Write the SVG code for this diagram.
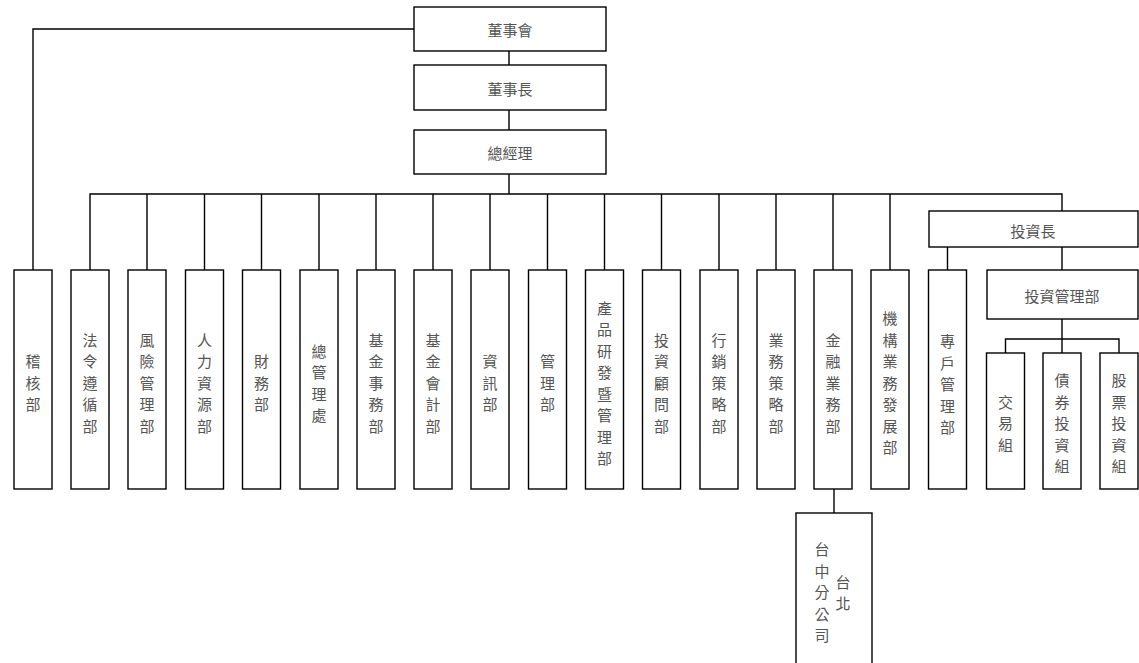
<svg xmlns="http://www.w3.org/2000/svg" width="1139" height="663" viewBox="0 0 1139 663">
<style>
.box{fill:#fff;stroke:#000;stroke-width:1.4}
.ln{fill:none;stroke:#000;stroke-width:1.4}
.t{font-family:"Noto Sans CJK TC","Noto Sans CJK SC",sans-serif;font-size:15px;fill:#555;text-anchor:middle;dominant-baseline:central}
</style>
<rect width="1139" height="663" fill="#fff"/>
<g id="connectors" class="ln">
<path d="M414 29H33V270"/>
<path d="M509 51V65M509 110V130M509 174V194"/>
<path d="M90 270V194H1062V211"/>
<path d="M147 194V270M204.5 194V270M261.5 194V270M319 194V270M376 194V270M433 194V270M490 194V270M547.5 194V270M604.5 194V270M661.5 194V270M719 194V270M776 194V270M833 194V270M890 194V270"/>
<path d="M947.5 247V270M1062 247V270M1062 319V353M1005.5 353V339H1119V353"/>
<path d="M834 489V513"/>
</g>
<g id="n-board"><rect class="box" x="414" y="7" width="192" height="44"/><text class="t" x="510" y="29">董事會</text></g>
<g id="n-chair"><rect class="box" x="414" y="65" width="192" height="45"/><text class="t" x="510" y="88">董事長</text></g>
<g id="n-gm"><rect class="box" x="414" y="130" width="192" height="44"/><text class="t" x="510" y="152">總經理</text></g>
<g id="n-cio"><rect class="box" x="929" y="211" width="209" height="36"/><text class="t" x="1033" y="230">投資長</text></g>
<g id="n-invmgmt"><rect class="box" x="987" y="270" width="151" height="49"/><text class="t" x="1062" y="295">投資管理部</text></g>

<g id="n-audit"><rect class="box" x="14" y="270" width="38" height="219"/><text class="t"><tspan x="33" y="360">稽</tspan><tspan x="33" y="381.5">核</tspan><tspan x="33" y="403">部</tspan></text></g>
<g id="n-legal"><rect class="box" x="71" y="270" width="38" height="219"/><text class="t"><tspan x="90" y="338.5">法</tspan><tspan x="90" y="360">令</tspan><tspan x="90" y="381.5">遵</tspan><tspan x="90" y="403">循</tspan><tspan x="90" y="424.5">部</tspan></text></g>
<g id="n-risk"><rect class="box" x="128" y="270" width="38" height="219"/><text class="t"><tspan x="147" y="338.5">風</tspan><tspan x="147" y="360">險</tspan><tspan x="147" y="381.5">管</tspan><tspan x="147" y="403">理</tspan><tspan x="147" y="424.5">部</tspan></text></g>
<g id="n-hr"><rect class="box" x="185.5" y="270" width="38" height="219"/><text class="t"><tspan x="204.5" y="338.5">人</tspan><tspan x="204.5" y="360">力</tspan><tspan x="204.5" y="381.5">資</tspan><tspan x="204.5" y="403">源</tspan><tspan x="204.5" y="424.5">部</tspan></text></g>
<g id="n-fin"><rect class="box" x="242.5" y="270" width="38" height="219"/><text class="t"><tspan x="261.5" y="360">財</tspan><tspan x="261.5" y="381.5">務</tspan><tspan x="261.5" y="403">部</tspan></text></g>
<g id="n-admin"><rect class="box" x="300" y="270" width="38" height="219"/><text class="t"><tspan x="319" y="349.5">總</tspan><tspan x="319" y="371">管</tspan><tspan x="319" y="392.5">理</tspan><tspan x="319" y="414">處</tspan></text></g>
<g id="n-fundops"><rect class="box" x="357" y="270" width="38" height="219"/><text class="t"><tspan x="376" y="338.5">基</tspan><tspan x="376" y="360">金</tspan><tspan x="376" y="381.5">事</tspan><tspan x="376" y="403">務</tspan><tspan x="376" y="424.5">部</tspan></text></g>
<g id="n-fundacct"><rect class="box" x="414" y="270" width="38" height="219"/><text class="t"><tspan x="433" y="338.5">基</tspan><tspan x="433" y="360">金</tspan><tspan x="433" y="381.5">會</tspan><tspan x="433" y="403">計</tspan><tspan x="433" y="424.5">部</tspan></text></g>
<g id="n-it"><rect class="box" x="471" y="270" width="38" height="219"/><text class="t"><tspan x="490" y="360">資</tspan><tspan x="490" y="381.5">訊</tspan><tspan x="490" y="403">部</tspan></text></g>
<g id="n-mgmt"><rect class="box" x="528.5" y="270" width="38" height="219"/><text class="t"><tspan x="547.5" y="360">管</tspan><tspan x="547.5" y="381.5">理</tspan><tspan x="547.5" y="403">部</tspan></text></g>
<g id="n-product"><rect class="box" x="585.5" y="270" width="38" height="219"/><text class="t"><tspan x="604.5" y="306.5">產</tspan><tspan x="604.5" y="328">品</tspan><tspan x="604.5" y="349.5">研</tspan><tspan x="604.5" y="371">發</tspan><tspan x="604.5" y="392.5">暨</tspan><tspan x="604.5" y="414">管</tspan><tspan x="604.5" y="435.5">理</tspan><tspan x="604.5" y="457">部</tspan></text></g>
<g id="n-advisory"><rect class="box" x="642.5" y="270" width="38" height="219"/><text class="t"><tspan x="661.5" y="338.5">投</tspan><tspan x="661.5" y="360">資</tspan><tspan x="661.5" y="381.5">顧</tspan><tspan x="661.5" y="403">問</tspan><tspan x="661.5" y="424.5">部</tspan></text></g>
<g id="n-marketing"><rect class="box" x="700" y="270" width="38" height="219"/><text class="t"><tspan x="719" y="338.5">行</tspan><tspan x="719" y="360">銷</tspan><tspan x="719" y="381.5">策</tspan><tspan x="719" y="403">略</tspan><tspan x="719" y="424.5">部</tspan></text></g>
<g id="n-bizstrat"><rect class="box" x="757" y="270" width="38" height="219"/><text class="t"><tspan x="776" y="338.5">業</tspan><tspan x="776" y="360">務</tspan><tspan x="776" y="381.5">策</tspan><tspan x="776" y="403">略</tspan><tspan x="776" y="424.5">部</tspan></text></g>
<g id="n-finbiz"><rect class="box" x="814" y="270" width="38" height="219"/><text class="t"><tspan x="833" y="338.5">金</tspan><tspan x="833" y="360">融</tspan><tspan x="833" y="381.5">業</tspan><tspan x="833" y="403">務</tspan><tspan x="833" y="424.5">部</tspan></text></g>
<g id="n-inst"><rect class="box" x="871" y="270" width="38" height="219"/><text class="t"><tspan x="890" y="317">機</tspan><tspan x="890" y="338.5">構</tspan><tspan x="890" y="360">業</tspan><tspan x="890" y="381.5">務</tspan><tspan x="890" y="403">發</tspan><tspan x="890" y="424.5">展</tspan><tspan x="890" y="446">部</tspan></text></g>
<g id="n-discretionary"><rect class="box" x="928.5" y="270" width="38" height="219"/><text class="t"><tspan x="947.5" y="340">專</tspan><tspan x="947.5" y="361.5">戶</tspan><tspan x="947.5" y="383">管</tspan><tspan x="947.5" y="404.5">理</tspan><tspan x="947.5" y="426">部</tspan></text></g>

<g id="n-trade"><rect class="box" x="986.5" y="353" width="38" height="136"/><text class="t"><tspan x="1005.5" y="400.5">交</tspan><tspan x="1005.5" y="422">易</tspan><tspan x="1005.5" y="443.5">組</tspan></text></g>
<g id="n-bond"><rect class="box" x="1043" y="353" width="38" height="136"/><text class="t"><tspan x="1062" y="379">債</tspan><tspan x="1062" y="400.5">券</tspan><tspan x="1062" y="422">投</tspan><tspan x="1062" y="443.5">資</tspan><tspan x="1062" y="465">組</tspan></text></g>
<g id="n-equity"><rect class="box" x="1100" y="353" width="38" height="136"/><text class="t"><tspan x="1119" y="379">股</tspan><tspan x="1119" y="400.5">票</tspan><tspan x="1119" y="422">投</tspan><tspan x="1119" y="443.5">資</tspan><tspan x="1119" y="465">組</tspan></text></g>

<g id="n-branch"><rect class="box" x="796" y="513" width="76" height="160"/><text class="t"><tspan x="822" y="548">台</tspan><tspan x="822" y="569.5">中</tspan><tspan x="822" y="591">分</tspan><tspan x="822" y="612.5">公</tspan><tspan x="822" y="634">司</tspan></text><text class="t"><tspan x="843" y="581">台</tspan><tspan x="843" y="602">北</tspan></text></g>
</svg>
